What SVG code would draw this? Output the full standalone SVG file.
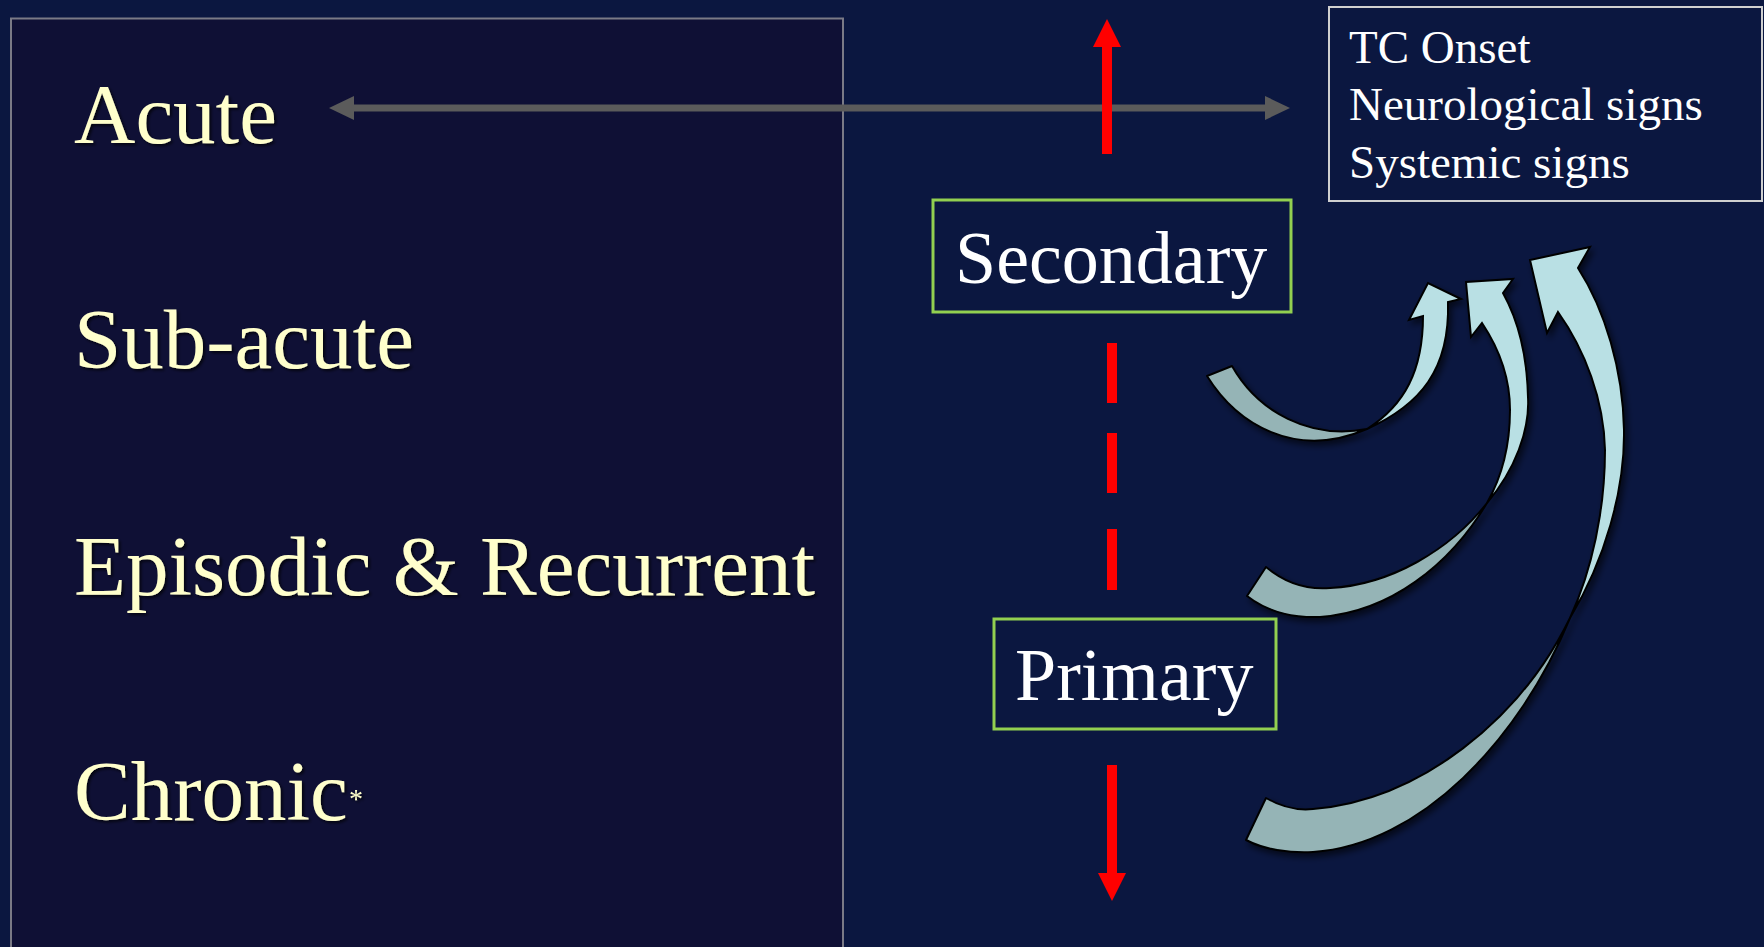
<svg xmlns="http://www.w3.org/2000/svg" width="1764" height="947" viewBox="0 0 1764 947">
<style>
.lbl{font-family:"Liberation Serif","Times New Roman",serif;font-size:85px;fill:#ffffcc;filter:url(#tsh)}
.w{font-family:"Liberation Serif","Times New Roman",serif;fill:#ffffff}
.back{fill:#95b4b6;stroke:#000;stroke-width:2;stroke-linejoin:round}
.front{fill:#b9e0e4;stroke:#000;stroke-width:2;stroke-linejoin:miter}
.red{stroke:#ff0000;stroke-width:10;fill:none}
</style>
<defs>
<filter id="tsh" x="-10%" y="-10%" width="130%" height="140%"><feDropShadow dx="2" dy="2" stdDeviation="1.5" flood-color="#000" flood-opacity="0.7"/></filter>
<filter id="ash" x="-20%" y="-20%" width="150%" height="150%"><feDropShadow dx="3" dy="4" stdDeviation="3" flood-color="#000" flood-opacity="0.6"/></filter>
</defs>
<rect x="0" y="0" width="1764" height="947" fill="#0b1740"/>
<g id="panel">
<rect x="11" y="18.5" width="832" height="940" fill="#0f1035" stroke="#7a7a86" stroke-width="2"/>
</g>
<g id="acute"><text class="lbl" x="74" y="143">Acute</text></g>
<g id="subacute"><text class="lbl" x="74" y="368">Sub-acute</text></g>
<g id="episodic"><text class="lbl" x="74" y="595">Episodic &amp; Recurrent</text></g>
<g id="chronic"><text class="lbl" x="74" y="820">Chronic</text><text class="lbl" x="349" y="808" style="font-size:28px">*</text></g>
<g id="connectors">
<g id="timeline">
<line x1="352" y1="108" x2="1267" y2="108" stroke="#5b5b5b" stroke-width="7"/>
<polygon points="329,108 354,96 354,120" fill="#5b5b5b"/>
<polygon points="1290,108 1265,96 1265,120" fill="#5b5b5b"/>
</g>
<g id="red-up">
<line class="red" x1="1107" y1="154" x2="1107" y2="45"/>
<polygon points="1107,19 1093,47 1121,47" fill="#ff0000"/>
</g>
<g id="red-dashes">
<line class="red" x1="1112" y1="343" x2="1112" y2="403"/>
<line class="red" x1="1112" y1="433" x2="1112" y2="493"/>
<line class="red" x1="1112" y1="529" x2="1112" y2="590"/>
</g>
<g id="red-down">
<line class="red" x1="1112" y1="765" x2="1112" y2="875"/>
<polygon points="1098,873 1126,873 1112,901" fill="#ff0000"/>
</g>
<g id="curve1" filter="url(#ash)">
<path class="back" d="M1207,376 C1237,424 1295,460 1367,429 C1310,440 1258,412 1232,366 Z"/>
<path class="front" d="M1367,429 C1420,405 1450,370 1448,302 L1461,299 L1428,283 L1409,320 L1423,316 C1423,370 1405,405 1367,429 Z"/>
</g>
<g id="curve2" filter="url(#ash)">
<path class="back" d="M1247,596 C1265,610 1290,618 1320,617 C1390,612 1450,565 1487,503 C1450,550 1390,585 1330,588 C1305,590 1285,583 1266,567 Z"/>
<path class="front" d="M1487,503 C1515,470 1530,430 1528,397 C1527,355 1518,320 1503,293 L1513,279 L1466,282 L1471,337 L1482,323 C1500,350 1510,380 1510,410 C1510,450 1500,480 1487,503 Z"/>
</g>
<g id="curve3" filter="url(#ash)">
<path class="back" d="M1246,840 C1265,850 1290,853 1313,852 C1420,845 1520,740 1570,618 C1520,720 1420,800 1313,809 C1295,811 1280,806 1266,798 Z"/>
<path class="front" d="M1570,618 C1605,560 1625,490 1624,430 C1623,370 1605,310 1578,268 L1590,247 L1530,260 L1547,333 L1558,312 C1585,350 1604,400 1605,450 C1605,510 1592,570 1570,618 Z"/>
</g>
</g>
<g id="secondary">
<rect x="933" y="200" width="358" height="112" fill="#0b1740" stroke="#92d050" stroke-width="3"/>
<text class="w" x="955" y="283" font-size="74">Secondary</text>
</g>
<g id="primary">
<rect x="994" y="619" width="282" height="110" fill="#0b1740" stroke="#92d050" stroke-width="3"/>
<text class="w" x="1015" y="700" font-size="74">Primary</text>
</g>
<g id="signs">
<rect x="1329" y="7" width="433" height="194" fill="#0b1740" stroke="#d0d0d0" stroke-width="2"/>
<text class="w" x="1349" y="63" font-size="47">TC Onset</text>
<text class="w" x="1349" y="120" font-size="47">Neurological signs</text>
<text class="w" x="1349" y="178" font-size="47">Systemic signs</text>
</g>
</svg>
